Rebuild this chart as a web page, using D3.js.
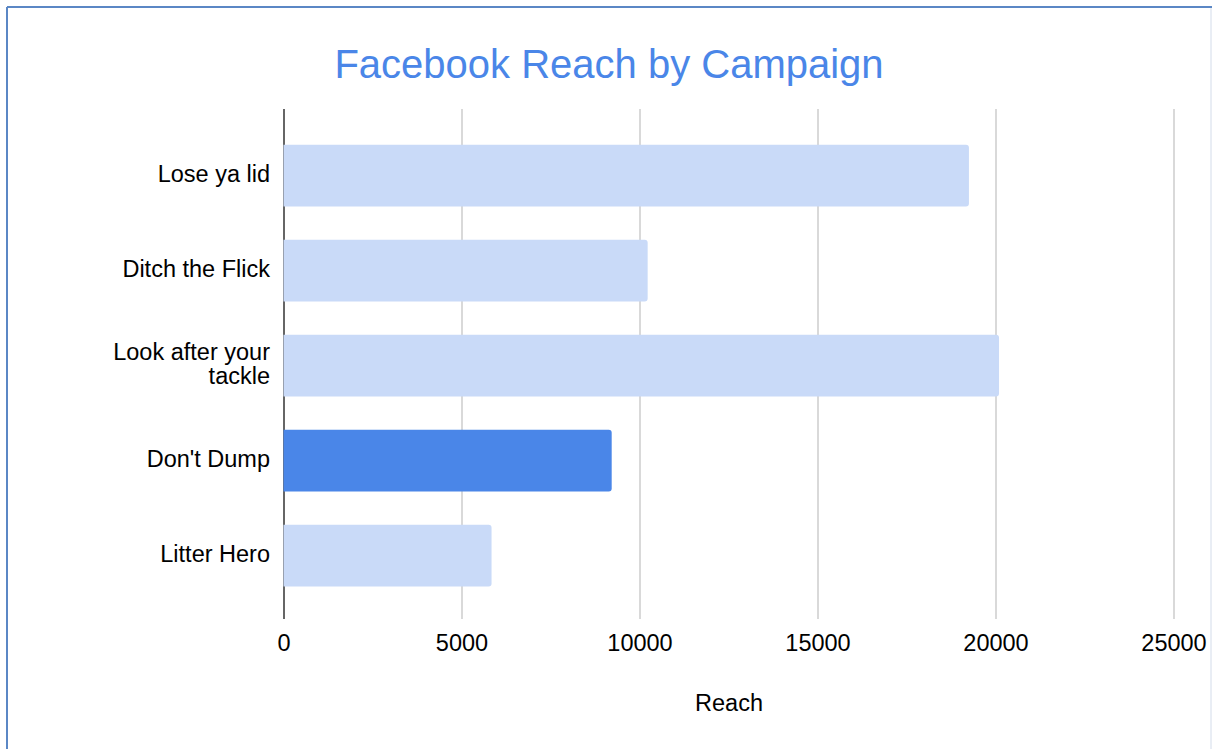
<!DOCTYPE html>
<html lang="en">
<head>
    <meta charset="UTF-8">
    <title>Facebook Reach by Campaign</title>
    <script src="https://d3js.org/d3.v7.min.js"></script>
    <style>
        body {
            margin: 0;
            background: #fff;
            font-family: 'Liberation Sans', Arial, sans-serif;
        }

        svg {
            display: block;
        }

        .grid line {
            stroke: #cccccc;
            stroke-width: 1.5;
        }

        .tick-label {
            font-size: 23.5px;
            fill: #000;
        }
    </style>
</head>
<body>
    <svg></svg>
    <script>
        const width = 1212;
        const height = 749;

        const campaigns = ["Lose ya lid", "Ditch the Flick", "Look after your tackle", "Don't Dump", "Litter Hero"];
        const reach = [19240, 10215, 20085, 9205, 5830];
        const highlighted = ["Don't Dump"];
        const xTicks = [0, 5000, 10000, 15000, 20000, 25000];

        const plotTop = 109, plotBottom = 619;

        const svg = d3.select("svg")
            .attr("width", width)
            .attr("height", height);

        // frame of the screenshot
        svg.append("line").attr("x1", 7).attr("x2", 1212).attr("y1", 7).attr("y2", 7)
            .attr("stroke", "#5b87c5").attr("stroke-width", 2);
        svg.append("line").attr("x1", 7).attr("x2", 7).attr("y1", 7).attr("y2", height)
            .attr("stroke", "#5b87c5").attr("stroke-width", 2);
        svg.append("line").attr("x1", 1211).attr("x2", 1211).attr("y1", 8).attr("y2", height)
            .attr("stroke", "#d3dcea").attr("stroke-width", 1);

        const x = d3.scaleLinear()
            .domain([0, 25000])
            .range([284, 1174]);

        const y = d3.scaleBand()
            .domain(campaigns)
            .range([128, 603])
            .paddingInner(0.35)
            .paddingOuter(0.175);

        // title
        svg.append("text")
            .attr("x", 609)
            .attr("y", 78)
            .attr("text-anchor", "middle")
            .attr("font-size", 40)
            .attr("fill", "#4a86e8")
            .text("Facebook Reach by Campaign");

        // gridlines
        svg.append("g")
            .attr("class", "grid")
            .selectAll("line")
            .data(xTicks.slice(1))
            .join("line")
            .attr("x1", d => x(d))
            .attr("x2", d => x(d))
            .attr("y1", plotTop)
            .attr("y2", plotBottom);

        // baseline axis
        svg.append("line")
            .attr("x1", x(0)).attr("x2", x(0))
            .attr("y1", plotTop).attr("y2", plotBottom)
            .attr("stroke", "#333")
            .attr("stroke-width", 1.5);

        // bars, rounded at the right end only
        function barPath(x0, x1, y0, h, r) {
            const p = d3.path();
            p.moveTo(x0, y0);
            p.lineTo(x1 - r, y0);
            p.arcTo(x1, y0, x1, y0 + r, r);
            p.lineTo(x1, y0 + h - r);
            p.arcTo(x1, y0 + h, x1 - r, y0 + h, r);
            p.lineTo(x0, y0 + h);
            p.closePath();
            return p.toString();
        }

        svg.append("g")
            .selectAll("path")
            .data(campaigns)
            .join("path")
            .attr("d", (d, i) => barPath(x(0) - 0.5, x(reach[i]), y(d), y.bandwidth(), 3))
            .attr("fill", d => highlighted.includes(d) ? "#4a86e8" : "#c9daf8");

        // x tick labels
        svg.append("g")
            .selectAll("text")
            .data(xTicks)
            .join("text")
            .attr("class", "tick-label")
            .attr("x", d => x(d))
            .attr("y", 651)
            .attr("text-anchor", "middle")
            .text(d => d);

        // y labels (wrap long ones)
        const wrapAt = { "Look after your tackle": ["Look after your", "tackle"] };
        const yLabels = svg.append("g")
            .selectAll("text")
            .data(campaigns)
            .join("text")
            .attr("class", "tick-label")
            .attr("text-anchor", "end")
            .attr("x", 270);

        yLabels.each(function (d) {
            const lines = wrapAt[d] || [d];
            const cy = y(d) + y.bandwidth() / 2;
            const lh = 23.5;
            const first = cy - (lines.length - 1) * lh / 2 + 6.5;
            d3.select(this).selectAll("tspan")
                .data(lines)
                .join("tspan")
                .attr("x", 270)
                .attr("y", (l, j) => first + j * lh)
                .text(l => l);
        });

        // axis title
        svg.append("text")
            .attr("class", "tick-label")
            .attr("x", (x.range()[0] + x.range()[1]) / 2)
            .attr("y", 711)
            .attr("text-anchor", "middle")
            .text("Reach");
    </script>
</body>
</html>
